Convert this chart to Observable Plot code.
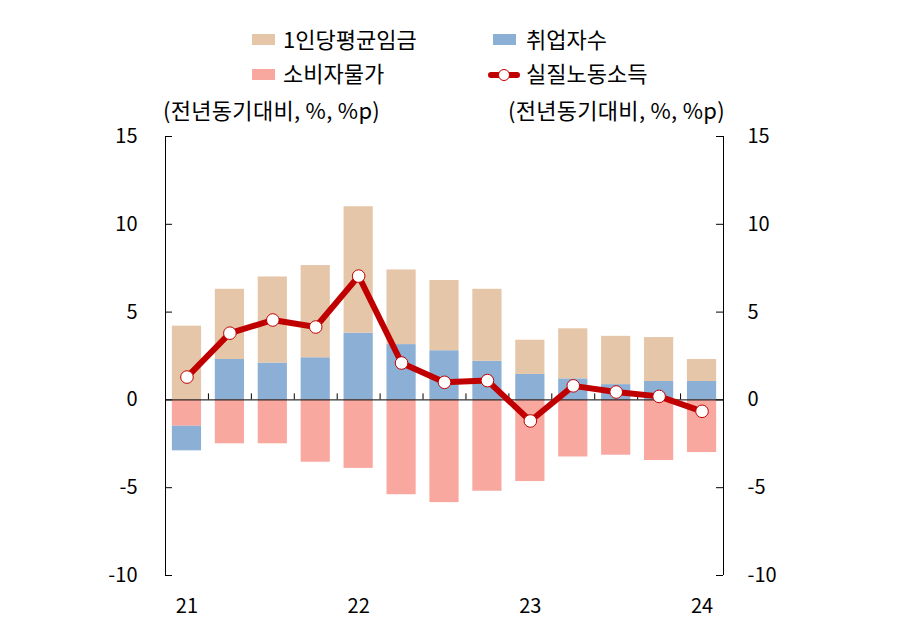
<!DOCTYPE html>
<html><head><meta charset="utf-8">
<script src="https://cdn.jsdelivr.net/npm/d3@7"></script>
<script src="https://cdn.jsdelivr.net/npm/@observablehq/plot@0.6"></script>
<style>
body{margin:0;background:#fff;font-family:"Noto Sans CJK KR","Noto Sans",sans-serif;}
#wrap{position:relative;width:900px;height:630px;overflow:hidden;}
#head{position:relative;width:900px;height:120px;}
.it{position:absolute;font-size:22px;line-height:26px;color:#000;white-space:nowrap;}
.sw{position:absolute;width:23px;height:11px;}
</style></head><body>
<div id="wrap"><div id="head"></div><div id="chart"></div></div>
<script>
// ---- data ----
const quarters = ["21Q1","21Q2","21Q3","21Q4","22Q1","22Q2","22Q3","22Q4","23Q1","23Q2","23Q3","23Q4","24Q1"];
const yearTicks = ["21Q1","22Q1","23Q1","24Q1"];
const seriesNames = ["1인당평균임금","취업자수","소비자물가","실질노동소득"];
const wage     = [4.2, 4.0, 4.9, 5.25, 7.2, 4.25, 4.0, 4.1, 1.95, 2.85, 2.75, 2.5, 1.25];
const employed = [-1.4, 2.3, 2.1, 2.4, 3.8, 3.15, 2.8, 2.2, 1.45, 1.2, 0.87, 1.05, 1.05];
const cpi      = [-1.5, -2.5, -2.5, -3.55, -3.9, -5.4, -5.85, -5.2, -4.65, -3.25, -3.15, -3.45, -3.0];
const realIncome = [1.3, 3.8, 4.55, 4.15, 7.05, 2.1, 1.0, 1.1, -1.2, 0.8, 0.45, 0.2, -0.65];
const yTicks = [-10, -5, 0, 5, 10, 15];
const unitLabel = "(전년동기대비, %, %p)";

// ---- styles ----
const colors = {"1인당평균임금":"#E6C6A8","취업자수":"#8CAFD5","소비자물가":"#F9A8A0"};
const lineColor = "#C00000";

// ---- layout ----
const W = 900, H = 510, mL = 165, mR = 177, mT = 16, mB = 55;
const plotW = W - mL - mR, plotH = H - mT - mB;
const step = plotW / quarters.length;
const pad = 0.32;
const unitsPerPx = (15 - (-10)) / plotH;

// ---- header legend ----
const head = document.getElementById("head");
function add(html){ head.insertAdjacentHTML("beforeend", html); }
add(`<div class="sw" style="left:252px;top:34px;background:${colors["1인당평균임금"]}"></div>`);
add(`<div class="it" style="left:283px;top:25px">${seriesNames[0]}</div>`);
add(`<div class="sw" style="left:493px;top:34px;background:${colors["취업자수"]}"></div>`);
add(`<div class="it" style="left:526px;top:25px">${seriesNames[1]}</div>`);
add(`<div class="sw" style="left:252px;top:69px;background:${colors["소비자물가"]}"></div>`);
add(`<div class="it" style="left:283px;top:59px">${seriesNames[2]}</div>`);
add(`<svg style="position:absolute;left:488px;top:67px" width="32" height="16"><line x1="3" y1="8" x2="29" y2="8" stroke="${lineColor}" stroke-width="6" stroke-linecap="round"/><circle cx="16" cy="8" r="5.5" fill="#fff" stroke="${lineColor}" stroke-width="1"/></svg>`);
add(`<div class="it" style="left:526px;top:59px">${seriesNames[3]}</div>`);
add(`<div class="it" style="left:163px;top:96px;letter-spacing:0.3px">${unitLabel}</div>`);
add(`<div class="it" style="right:${900-725}px;top:96px;letter-spacing:0.3px">${unitLabel}</div>`);

// ---- chart data tables ----
const rows = [];
quarters.forEach((q, i) => {
  rows.push({q, s: "소비자물가", v: cpi[i]});
  rows.push({q, s: "취업자수", v: employed[i]});
  rows.push({q, s: "1인당평균임금", v: wage[i]});
});
const lineData = quarters.map((q, i) => ({q, v: realIncome[i]}));

const tickLen = 6 * unitsPerPx;
const fmt = d => String(d);

const chart = Plot.plot({
  width: W, height: H,
  marginLeft: mL, marginRight: mR, marginTop: mT, marginBottom: mB,
  style: {fontFamily: '"Noto Sans CJK KR","Noto Sans",sans-serif', fontSize: "20px", color: "#000", background: "#fff"},
  x: {domain: quarters, paddingInner: pad, paddingOuter: pad / 2, round: false, label: null},
  y: {domain: [-10, 15], label: null},
  color: {domain: Object.keys(colors), range: Object.values(colors)},
  marks: [
    Plot.barY(rows, {x: "q", y: "v", fill: "s", order: ["소비자물가","취업자수","1인당평균임금"]}),
    Plot.ruleY([0], {stroke: "#000", strokeWidth: 1}),
    Plot.ruleX(quarters.slice(1), {x: d => d, y1: 0, y2: tickLen, dx: -step / 2, stroke: "#000", strokeWidth: 1}),
    Plot.ruleX([quarters[0]], {x: d => d, y1: -10, y2: 15, dx: -step / 2, stroke: "#000", strokeWidth: 1}),
    Plot.ruleX([quarters[quarters.length - 1]], {x: d => d, y1: -10, y2: 15, dx: step / 2, stroke: "#000", strokeWidth: 1}),
    Plot.ruleY(yTicks, {insetRight: plotW - 7, stroke: "#000", strokeWidth: 1}),
    Plot.ruleY(yTicks, {insetLeft: plotW - 7, stroke: "#000", strokeWidth: 1}),
    Plot.axisY({anchor: "left", ticks: yTicks, tickFormat: fmt, tickSize: 0, tickPadding: 28, fontSize: 20, label: null}),
    Plot.axisY({anchor: "right", ticks: yTicks, tickFormat: fmt, tickSize: 0, tickPadding: 24, fontSize: 20, label: null}),
    Plot.axisX({ticks: yearTicks, tickFormat: d => d.slice(0, 2), tickSize: 0, tickPadding: 23, fontSize: 20, label: null}),
    Plot.line(lineData, {x: "q", y: "v", stroke: lineColor, strokeWidth: 6, strokeLinejoin: "round"}),
    Plot.dot(lineData, {x: "q", y: "v", r: 6.3, fill: "#fff", stroke: lineColor, strokeWidth: 1})
  ]
});
document.getElementById("chart").appendChild(chart);
</script>
</body></html>
